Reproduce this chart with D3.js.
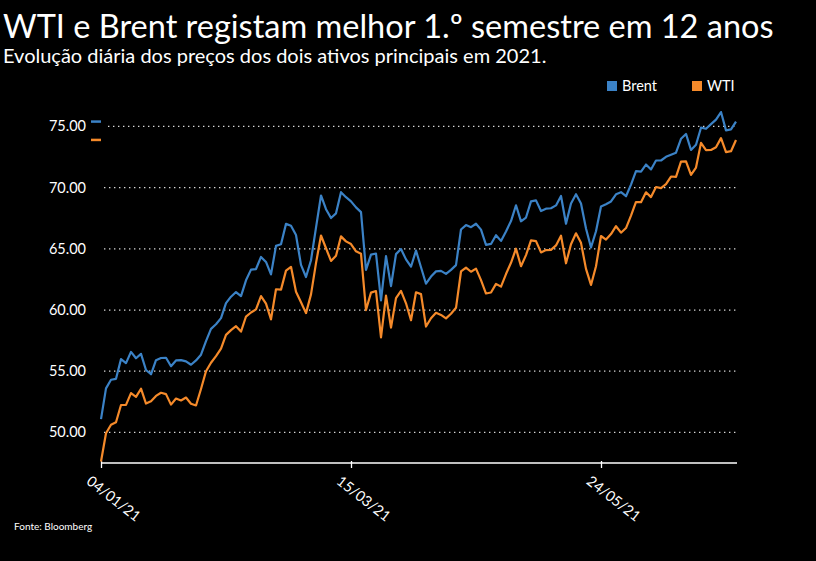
<!DOCTYPE html>
<html>
<head>
<meta charset="utf-8">
<script src="https://cdn.jsdelivr.net/npm/d3@7"></script>
<style>
  html, body { margin: 0; padding: 0; background: #000; }
  svg { display: block; }
  text { font-family: Lato, "Noto Sans", sans-serif; fill: #fff; }
</style>
</head>
<body>
<script>
// preços diários (fecho) jan-jun 2021, um valor por dia útil, a partir de 04/01/21
let brent = [
  51.09, 53.60, 54.30, 54.38, 55.99, 55.66, 56.58, 56.06, 56.42, 55.10,
  54.75, 55.90, 56.08, 56.10, 55.41, 55.88, 55.91, 55.81, 55.53, 55.88,
  56.35, 57.46, 58.46, 58.84, 59.34, 60.56, 61.09, 61.47, 61.14, 62.43,
  63.30, 63.35, 64.34, 63.93, 62.91, 65.24, 65.37, 67.04, 66.88, 66.13,
  63.69, 62.70, 64.07, 66.74, 69.36, 68.24, 67.52, 67.90, 69.63, 69.22,
  68.88, 68.39, 68.00, 63.28, 64.53, 64.62, 60.79, 64.41, 61.95, 64.57,
  64.98, 64.14, 63.54, 64.86, 63.50, 62.15, 62.74, 63.16, 63.20, 62.95,
  63.28, 63.67, 66.58, 66.94, 66.77, 67.05, 66.57, 65.32, 65.40, 66.11,
  65.65, 66.42, 67.27, 68.56, 67.25, 67.56, 68.88, 68.96, 68.09, 68.28,
  68.32, 68.55, 69.32, 67.05, 68.71, 69.46, 68.71, 66.66, 65.11, 66.44,
  68.46, 68.65, 68.87, 69.46, 69.63, 69.30, 70.25, 71.35, 71.31, 71.89,
  71.49, 72.22, 72.22, 72.52, 72.69, 72.86, 73.99, 74.39, 73.08, 73.51,
  74.90, 74.81, 75.19, 75.56, 76.18, 74.68, 74.76, 75.40
];
let wti = [
  47.62, 49.93, 50.63, 50.83, 52.24, 52.25, 53.21, 52.91, 53.57, 52.36,
  52.55, 52.98, 53.24, 53.13, 52.27, 52.77, 52.61, 52.85, 52.34, 52.20,
  53.55, 55.00, 55.69, 56.23, 56.85, 57.97, 58.36, 58.68, 58.24, 59.47,
  59.80, 60.05, 61.14, 60.52, 59.24, 61.70, 61.67, 63.22, 63.53, 61.50,
  60.64, 59.75, 61.28, 63.83, 66.09, 65.05, 64.01, 64.44, 66.02, 65.61,
  65.39, 64.80, 64.60, 60.00, 61.42, 61.55, 57.76, 61.18, 58.56, 60.97,
  61.56, 60.55, 59.16, 61.45, 61.30, 58.65, 59.33, 59.77, 59.60, 59.32,
  59.70, 60.18, 63.15, 63.46, 63.13, 63.38, 62.44, 61.35, 61.43, 62.14,
  61.91, 62.94, 63.86, 65.01, 63.58, 64.49, 65.69, 65.63, 64.71, 64.90,
  64.92, 65.28, 66.08, 63.82, 65.37, 66.27, 65.49, 63.36, 62.05, 63.58,
  66.05, 65.76, 66.21, 66.85, 66.32, 66.70, 67.72, 68.83, 68.81, 69.62,
  69.23, 70.05, 69.96, 70.29, 70.91, 70.88, 72.12, 72.15, 71.04, 71.64,
  73.66, 73.06, 73.08, 73.30, 74.05, 72.91, 72.98, 73.90
];
let seriesNames = ["Brent", "WTI"];
let xTickIndex = [0, 50, 100];
let xTickLabels = ["04/01/21", "15/03/21", "24/05/21"];
let yTicks = [50, 55, 60, 65, 70, 75];

const W = 816, H = 561;
const colors = { Brent: "#3b82c6", WTI: "#f58a2a" };

const svg = d3.select("body").append("svg")
  .attr("width", W).attr("height", H);

svg.append("rect").attr("width", W).attr("height", H).attr("fill", "#000");

// titulo
svg.append("text")
  .attr("x", 3).attr("y", 38)
  .style("font-size", "32.5px")
  .text("WTI e Brent registam melhor 1.º semestre em 12 anos");

svg.append("text")
  .attr("x", 3).attr("y", 63)
  .style("font-size", "20px")
  .text("Evolução diária dos preços dos dois ativos principais em 2021.");

var x = d3.scaleLinear()
  .domain([0, brent.length - 1])
  .range([101, 736]);

var y = d3.scaleLinear()
  .domain([47.5, 77])
  .range([463, 102]);

// grelha pontilhada
svg.append("g")
  .selectAll("line")
  .data(yTicks)
  .join("line")
    .attr("x1", d => d == 75 ? 108 : 104)
    .attr("x2", 737)
    .attr("y1", d => y(d))
    .attr("y2", d => y(d))
    .attr("stroke", "#d8d8d8")
    .attr("stroke-width", 1.3)
    .attr("stroke-dasharray", "1.4,3.6");

svg.append("g")
  .selectAll("text")
  .data(yTicks)
  .join("text")
    .attr("x", 86)
    .attr("y", d => y(d) + 5)
    .attr("text-anchor", "end")
    .style("font-size", "14.5px")
    .text(d => d3.format(".2f")(d));

// eixo x
var xAxis = svg.append("g")
  .attr("transform", "translate(0,463)")
  .call(d3.axisBottom(x)
    .tickValues(xTickIndex)
    .tickFormat((d, i) => xTickLabels[i])
    .tickSize(5)
    .tickSizeOuter(0));

xAxis.select(".domain")
  .attr("stroke", "#fff")
  .attr("stroke-width", 1.5)
  .attr("d", "M" + x(0) + ",0H737");
xAxis.selectAll(".tick line")
  .attr("stroke", "#fff")
  .attr("stroke-width", 1.3)
  .attr("y1", -2);
xAxis.selectAll(".tick text")
  .attr("fill", "#fff")
  .style("font-size", "14.5px")
  .style("font-family", "Lato, sans-serif")
  .attr("text-anchor", "start")
  .attr("dy", null)
  .attr("y", 0)
  .attr("transform", "translate(-16,20) rotate(38)");

// linhas
var line = d3.line()
  .x((d, i) => x(i))
  .y(d => y(d));

var all = { Brent: brent, WTI: wti };

seriesNames.forEach(function(name) {
  svg.append("path")
    .datum(all[name])
    .attr("fill", "none")
    .attr("stroke", colors[name])
    .attr("stroke-width", 2.2)
    .attr("stroke-linejoin", "round")
    .attr("d", line);

  // marca do ultimo valor junto ao eixo
  var last = all[name][all[name].length - 1];
  svg.append("line")
    .attr("x1", 91).attr("x2", 101)
    .attr("y1", y(last)).attr("y2", y(last))
    .attr("stroke", colors[name])
    .attr("stroke-width", 2.5);
});

// legenda
var legendX = [607, 692];
seriesNames.forEach(function(name, i) {
  svg.append("rect")
    .attr("x", legendX[i]).attr("y", 81)
    .attr("width", 10).attr("height", 10)
    .attr("fill", colors[name]);
  svg.append("text")
    .attr("x", legendX[i] + 15).attr("y", 91)
    .style("font-size", "14.5px")
    .text(name);
});

svg.append("text")
  .attr("x", 14).attr("y", 530)
  .style("font-size", "10px")
  .text("Fonte: Bloomberg");
</script>
</body>
</html>
